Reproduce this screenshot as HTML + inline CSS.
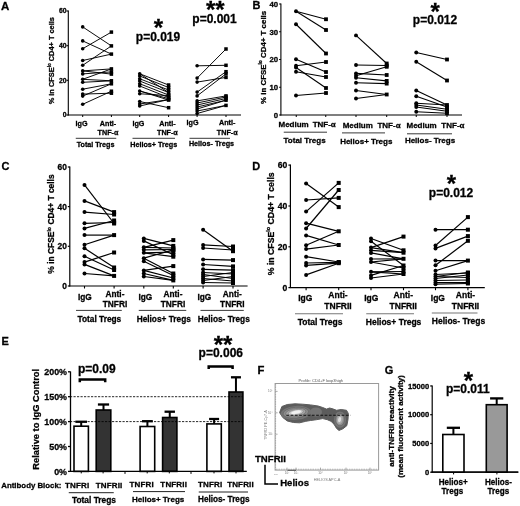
<!DOCTYPE html>
<html lang="en">
<head>
<meta charset="utf-8">
<title>Figure</title>
<style>
html,body{margin:0;padding:0;background:#fff;}
body{width:520px;height:506px;overflow:hidden;}
svg{display:block;font-family:"Liberation Sans", sans-serif;will-change:transform;opacity:0.999;}
text.b{stroke:#000;stroke-width:0.28px;}
</style>
</head>
<body>
<svg width="520" height="506" viewBox="0 0 520 506">
<rect x="0" y="0" width="520" height="506" fill="#fff"/>
<text x="1.0" y="9.8" font-size="11.5" text-anchor="start" font-weight="bold" fill="#000"  class="b">A</text>
<line x1="68.3" y1="10.5" x2="68.3" y2="115.5" stroke="#000" stroke-width="1.1" />
<line x1="66.5" y1="11" x2="68.3" y2="11" stroke="#000" stroke-width="1.1" />
<text x="66.5" y="13.448" font-size="6.8" text-anchor="end" font-weight="bold" fill="#000"  class="b">60</text>
<line x1="66.5" y1="45.7" x2="68.3" y2="45.7" stroke="#000" stroke-width="1.1" />
<text x="66.5" y="48.148" font-size="6.8" text-anchor="end" font-weight="bold" fill="#000"  class="b">40</text>
<line x1="66.5" y1="80.3" x2="68.3" y2="80.3" stroke="#000" stroke-width="1.1" />
<text x="66.5" y="82.74799999999999" font-size="6.8" text-anchor="end" font-weight="bold" fill="#000"  class="b">20</text>
<line x1="66.5" y1="115" x2="68.3" y2="115" stroke="#000" stroke-width="1.1" />
<text x="66.5" y="117.448" font-size="6.8" text-anchor="end" font-weight="bold" fill="#000"  class="b">0</text>
<line x1="67.8" y1="115" x2="241" y2="115" stroke="#000" stroke-width="1.1" />
<text transform="translate(54,60.7) rotate(-90)" font-size="7.4" text-anchor="middle" font-weight="bold" fill="#000" class="b">% in CFSE<tspan font-size="62%" dy="-3.3">lo</tspan><tspan dy="3.3"> CD4+ T cells</tspan></text>
<line x1="82.7" y1="26.9" x2="111.4" y2="45.9" stroke="#000" stroke-width="0.95" />
<line x1="82.7" y1="40.9" x2="111.4" y2="54.1" stroke="#000" stroke-width="0.95" />
<line x1="82.7" y1="48.7" x2="111.4" y2="32.1" stroke="#000" stroke-width="0.95" />
<line x1="82.7" y1="60.5" x2="111.4" y2="54.1" stroke="#000" stroke-width="0.95" />
<line x1="82.7" y1="65.3" x2="111.4" y2="45.9" stroke="#000" stroke-width="0.95" />
<line x1="82.7" y1="70.9" x2="111.4" y2="68.9" stroke="#000" stroke-width="0.95" />
<line x1="82.7" y1="70.9" x2="111.4" y2="74.1" stroke="#000" stroke-width="0.95" />
<line x1="82.7" y1="73.9" x2="111.4" y2="71.9" stroke="#000" stroke-width="0.95" />
<line x1="82.7" y1="79.3" x2="111.4" y2="68.9" stroke="#000" stroke-width="0.95" />
<line x1="82.7" y1="79.3" x2="111.4" y2="80.8" stroke="#000" stroke-width="0.95" />
<line x1="82.7" y1="82.3" x2="111.4" y2="80.8" stroke="#000" stroke-width="0.95" />
<line x1="82.7" y1="89.2" x2="111.4" y2="83.8" stroke="#000" stroke-width="0.95" />
<line x1="82.7" y1="94.1" x2="111.4" y2="93.2" stroke="#000" stroke-width="0.95" />
<line x1="82.7" y1="96.1" x2="111.4" y2="83.8" stroke="#000" stroke-width="0.95" />
<line x1="82.7" y1="104.3" x2="111.4" y2="91.2" stroke="#000" stroke-width="0.95" />
<circle cx="82.7" cy="26.9" r="1.8" fill="#000"/>
<circle cx="82.7" cy="40.9" r="1.8" fill="#000"/>
<circle cx="82.7" cy="48.7" r="1.8" fill="#000"/>
<circle cx="82.7" cy="60.5" r="1.8" fill="#000"/>
<circle cx="82.7" cy="65.3" r="1.8" fill="#000"/>
<circle cx="82.7" cy="70.9" r="1.8" fill="#000"/>
<circle cx="82.7" cy="73.9" r="1.8" fill="#000"/>
<circle cx="82.7" cy="79.3" r="1.8" fill="#000"/>
<circle cx="82.7" cy="82.3" r="1.8" fill="#000"/>
<circle cx="82.7" cy="89.2" r="1.8" fill="#000"/>
<circle cx="82.7" cy="94.1" r="1.8" fill="#000"/>
<circle cx="82.7" cy="96.1" r="1.8" fill="#000"/>
<circle cx="82.7" cy="104.3" r="1.8" fill="#000"/>
<rect x="109.65" y="30.35" width="3.5" height="3.5" fill="#000"/>
<rect x="109.65" y="44.15" width="3.5" height="3.5" fill="#000"/>
<rect x="109.65" y="52.35" width="3.5" height="3.5" fill="#000"/>
<rect x="109.65" y="67.15" width="3.5" height="3.5" fill="#000"/>
<rect x="109.65" y="70.15" width="3.5" height="3.5" fill="#000"/>
<rect x="109.65" y="72.35" width="3.5" height="3.5" fill="#000"/>
<rect x="109.65" y="79.05" width="3.5" height="3.5" fill="#000"/>
<rect x="109.65" y="82.05" width="3.5" height="3.5" fill="#000"/>
<rect x="109.65" y="89.45" width="3.5" height="3.5" fill="#000"/>
<rect x="109.65" y="91.45" width="3.5" height="3.5" fill="#000"/>
<line x1="139.7" y1="73.75" x2="168.6" y2="85" stroke="#000" stroke-width="0.95" />
<line x1="139.7" y1="76" x2="168.6" y2="87.5" stroke="#000" stroke-width="0.95" />
<line x1="139.7" y1="78.75" x2="168.6" y2="90" stroke="#000" stroke-width="0.95" />
<line x1="139.7" y1="81" x2="168.6" y2="92.5" stroke="#000" stroke-width="0.95" />
<line x1="139.7" y1="83.75" x2="168.6" y2="95" stroke="#000" stroke-width="0.95" />
<line x1="139.7" y1="86" x2="168.6" y2="97.5" stroke="#000" stroke-width="0.95" />
<line x1="139.7" y1="73.75" x2="168.6" y2="92.5" stroke="#000" stroke-width="0.95" />
<line x1="139.7" y1="91" x2="168.6" y2="98.6" stroke="#000" stroke-width="0.95" />
<line x1="139.7" y1="93.75" x2="168.6" y2="95.6" stroke="#000" stroke-width="0.95" />
<line x1="139.7" y1="91" x2="168.6" y2="100" stroke="#000" stroke-width="0.95" />
<line x1="139.7" y1="101.5" x2="168.6" y2="107.7" stroke="#000" stroke-width="0.95" />
<line x1="139.7" y1="104" x2="168.6" y2="99.6" stroke="#000" stroke-width="0.95" />
<line x1="139.7" y1="106" x2="168.6" y2="99.6" stroke="#000" stroke-width="0.95" />
<circle cx="139.7" cy="73.75" r="1.8" fill="#000"/>
<circle cx="139.7" cy="76" r="1.8" fill="#000"/>
<circle cx="139.7" cy="78.75" r="1.8" fill="#000"/>
<circle cx="139.7" cy="81" r="1.8" fill="#000"/>
<circle cx="139.7" cy="83.75" r="1.8" fill="#000"/>
<circle cx="139.7" cy="86" r="1.8" fill="#000"/>
<circle cx="139.7" cy="91" r="1.8" fill="#000"/>
<circle cx="139.7" cy="93.75" r="1.8" fill="#000"/>
<circle cx="139.7" cy="101.5" r="1.8" fill="#000"/>
<circle cx="139.7" cy="104" r="1.8" fill="#000"/>
<circle cx="139.7" cy="106" r="1.8" fill="#000"/>
<rect x="166.85" y="83.25" width="3.5" height="3.5" fill="#000"/>
<rect x="166.85" y="85.75" width="3.5" height="3.5" fill="#000"/>
<rect x="166.85" y="88.25" width="3.5" height="3.5" fill="#000"/>
<rect x="166.85" y="90.75" width="3.5" height="3.5" fill="#000"/>
<rect x="166.85" y="93.25" width="3.5" height="3.5" fill="#000"/>
<rect x="166.85" y="93.85" width="3.5" height="3.5" fill="#000"/>
<rect x="166.85" y="95.75" width="3.5" height="3.5" fill="#000"/>
<rect x="166.85" y="96.85" width="3.5" height="3.5" fill="#000"/>
<rect x="166.85" y="97.85" width="3.5" height="3.5" fill="#000"/>
<rect x="166.85" y="98.25" width="3.5" height="3.5" fill="#000"/>
<rect x="166.85" y="105.95" width="3.5" height="3.5" fill="#000"/>
<line x1="197.1" y1="65.8" x2="226" y2="65.3" stroke="#000" stroke-width="0.95" />
<line x1="197.1" y1="78.1" x2="226" y2="49" stroke="#000" stroke-width="0.95" />
<line x1="197.1" y1="82.1" x2="226" y2="77.4" stroke="#000" stroke-width="0.95" />
<line x1="197.1" y1="92.1" x2="226" y2="71.7" stroke="#000" stroke-width="0.95" />
<line x1="197.1" y1="95.9" x2="226" y2="73.9" stroke="#000" stroke-width="0.95" />
<line x1="197.1" y1="100.9" x2="226" y2="95.9" stroke="#000" stroke-width="0.95" />
<line x1="197.1" y1="103" x2="226" y2="97" stroke="#000" stroke-width="0.95" />
<line x1="197.1" y1="105" x2="226" y2="98.5" stroke="#000" stroke-width="0.95" />
<line x1="197.1" y1="107" x2="226" y2="100.2" stroke="#000" stroke-width="0.95" />
<line x1="197.1" y1="109" x2="226" y2="100.2" stroke="#000" stroke-width="0.95" />
<line x1="197.1" y1="111" x2="226" y2="105.4" stroke="#000" stroke-width="0.95" />
<line x1="197.1" y1="113.5" x2="226" y2="105.4" stroke="#000" stroke-width="0.95" />
<circle cx="197.1" cy="65.8" r="1.8" fill="#000"/>
<circle cx="197.1" cy="78.1" r="1.8" fill="#000"/>
<circle cx="197.1" cy="82.1" r="1.8" fill="#000"/>
<circle cx="197.1" cy="92.1" r="1.8" fill="#000"/>
<circle cx="197.1" cy="95.9" r="1.8" fill="#000"/>
<circle cx="197.1" cy="100.9" r="1.8" fill="#000"/>
<circle cx="197.1" cy="103" r="1.8" fill="#000"/>
<circle cx="197.1" cy="105" r="1.8" fill="#000"/>
<circle cx="197.1" cy="107" r="1.8" fill="#000"/>
<circle cx="197.1" cy="109" r="1.8" fill="#000"/>
<circle cx="197.1" cy="111" r="1.8" fill="#000"/>
<circle cx="197.1" cy="113.5" r="1.8" fill="#000"/>
<rect x="224.25" y="47.25" width="3.5" height="3.5" fill="#000"/>
<rect x="224.25" y="63.55" width="3.5" height="3.5" fill="#000"/>
<rect x="224.25" y="69.95" width="3.5" height="3.5" fill="#000"/>
<rect x="224.25" y="72.15" width="3.5" height="3.5" fill="#000"/>
<rect x="224.25" y="75.65" width="3.5" height="3.5" fill="#000"/>
<rect x="224.25" y="94.15" width="3.5" height="3.5" fill="#000"/>
<rect x="224.25" y="95.25" width="3.5" height="3.5" fill="#000"/>
<rect x="224.25" y="96.75" width="3.5" height="3.5" fill="#000"/>
<rect x="224.25" y="98.45" width="3.5" height="3.5" fill="#000"/>
<rect x="224.25" y="103.65" width="3.5" height="3.5" fill="#000"/>
<line x1="82.7" y1="115" x2="82.7" y2="117" stroke="#000" stroke-width="1" />
<line x1="111.4" y1="115" x2="111.4" y2="117" stroke="#000" stroke-width="1" />
<line x1="139.7" y1="115" x2="139.7" y2="117" stroke="#000" stroke-width="1" />
<line x1="168.6" y1="115" x2="168.6" y2="117" stroke="#000" stroke-width="1" />
<line x1="197.1" y1="115" x2="197.1" y2="117" stroke="#000" stroke-width="1" />
<line x1="226" y1="115" x2="226" y2="117" stroke="#000" stroke-width="1" />
<text x="81.6" y="125.5" font-size="7.2" text-anchor="middle" font-weight="bold" fill="#000"  class="b">IgG</text>
<text x="108" y="125.5" font-size="7.2" text-anchor="middle" font-weight="bold" fill="#000"  class="b">Anti-</text>
<text x="108" y="135.1" font-size="7.2" text-anchor="middle" font-weight="bold" fill="#000"  class="b">TNF-α</text>
<line x1="75.75" y1="138.3" x2="116.25" y2="138.3" stroke="#222" stroke-width="0.9" />
<text x="95.6" y="146.8" font-size="7.2" text-anchor="middle" font-weight="bold" fill="#000"  class="b">Total Tregs</text>
<text x="138.4" y="125.5" font-size="7.2" text-anchor="middle" font-weight="bold" fill="#000"  class="b">IgG</text>
<text x="167.4" y="125.5" font-size="7.2" text-anchor="middle" font-weight="bold" fill="#000"  class="b">Anti-</text>
<text x="167.4" y="135.1" font-size="7.2" text-anchor="middle" font-weight="bold" fill="#000"  class="b">TNF-α</text>
<line x1="132.5" y1="138.3" x2="175" y2="138.3" stroke="#222" stroke-width="0.9" />
<text x="153.75" y="146.8" font-size="7.2" text-anchor="middle" font-weight="bold" fill="#000"  class="b">Helios+ Tregs</text>
<text x="192.6" y="125.0" font-size="7.2" text-anchor="middle" font-weight="bold" fill="#000"  class="b">IgG</text>
<text x="227.2" y="125.0" font-size="7.2" text-anchor="middle" font-weight="bold" fill="#000"  class="b">Anti-</text>
<text x="227.2" y="135.4" font-size="7.2" text-anchor="middle" font-weight="bold" fill="#000"  class="b">TNF-α</text>
<line x1="189.5" y1="138.3" x2="230" y2="138.3" stroke="#222" stroke-width="0.9" />
<text x="211.5" y="145.8" font-size="7.2" text-anchor="middle" font-weight="bold" fill="#000"  class="b">Helios- Tregs</text>
<text x="158.3" y="36.1" font-size="24" text-anchor="middle" font-weight="bold" fill="#000"  class="b">*</text>
<text x="158" y="41.2" font-size="12" text-anchor="middle" font-weight="bold" fill="#000"  class="b">p=0.019</text>
<text x="215.3" y="17.7" font-size="24" text-anchor="middle" font-weight="bold" fill="#000"  class="b">**</text>
<text x="214.5" y="22.5" font-size="12" text-anchor="middle" font-weight="bold" fill="#000"  class="b">p=0.001</text>
<text x="252.6" y="9.1" font-size="11" text-anchor="start" font-weight="bold" fill="#000"  class="b">B</text>
<line x1="280.9" y1="3.5" x2="280.9" y2="115.5" stroke="#000" stroke-width="1.1" />
<line x1="279.09999999999997" y1="4" x2="280.9" y2="4" stroke="#000" stroke-width="1.1" />
<text x="278.09999999999997" y="6.808" font-size="7.8" text-anchor="end" font-weight="bold" fill="#000"  class="b">40</text>
<line x1="279.09999999999997" y1="31.75" x2="280.9" y2="31.75" stroke="#000" stroke-width="1.1" />
<text x="278.09999999999997" y="34.558" font-size="7.8" text-anchor="end" font-weight="bold" fill="#000"  class="b">30</text>
<line x1="279.09999999999997" y1="59.5" x2="280.9" y2="59.5" stroke="#000" stroke-width="1.1" />
<text x="278.09999999999997" y="62.308" font-size="7.8" text-anchor="end" font-weight="bold" fill="#000"  class="b">20</text>
<line x1="279.09999999999997" y1="87.25" x2="280.9" y2="87.25" stroke="#000" stroke-width="1.1" />
<text x="278.09999999999997" y="90.05799999999999" font-size="7.8" text-anchor="end" font-weight="bold" fill="#000"  class="b">10</text>
<line x1="279.09999999999997" y1="115" x2="280.9" y2="115" stroke="#000" stroke-width="1.1" />
<text x="278.09999999999997" y="117.80799999999999" font-size="7.8" text-anchor="end" font-weight="bold" fill="#000"  class="b">0</text>
<line x1="280.4" y1="115" x2="462" y2="115" stroke="#000" stroke-width="1.1" />
<text transform="translate(265.7,57.4) rotate(-90)" font-size="7.9" text-anchor="middle" font-weight="bold" fill="#000" class="b">% in CFSE<tspan font-size="62%" dy="-3.3">lo</tspan><tspan dy="3.3"> CD4+ T cells</tspan></text>
<line x1="296" y1="11.25" x2="326" y2="19.25" stroke="#000" stroke-width="1.1" />
<line x1="296" y1="11.25" x2="326" y2="30" stroke="#000" stroke-width="1.1" />
<line x1="296" y1="24.25" x2="326" y2="53.5" stroke="#000" stroke-width="1.1" />
<line x1="296" y1="59.25" x2="326" y2="72" stroke="#000" stroke-width="1.1" />
<line x1="296" y1="65.75" x2="326" y2="62" stroke="#000" stroke-width="1.1" />
<line x1="296" y1="67.5" x2="326" y2="88" stroke="#000" stroke-width="1.1" />
<line x1="296" y1="71.75" x2="326" y2="77" stroke="#000" stroke-width="1.1" />
<line x1="296" y1="95.5" x2="326" y2="93" stroke="#000" stroke-width="1.1" />
<circle cx="296" cy="11.25" r="1.95" fill="#000"/>
<circle cx="296" cy="24.25" r="1.95" fill="#000"/>
<circle cx="296" cy="59.25" r="1.95" fill="#000"/>
<circle cx="296" cy="65.75" r="1.95" fill="#000"/>
<circle cx="296" cy="67.5" r="1.95" fill="#000"/>
<circle cx="296" cy="71.75" r="1.95" fill="#000"/>
<circle cx="296" cy="95.5" r="1.95" fill="#000"/>
<rect x="324.1" y="17.35" width="3.8" height="3.8" fill="#000"/>
<rect x="324.1" y="28.1" width="3.8" height="3.8" fill="#000"/>
<rect x="324.1" y="51.6" width="3.8" height="3.8" fill="#000"/>
<rect x="324.1" y="60.1" width="3.8" height="3.8" fill="#000"/>
<rect x="324.1" y="70.1" width="3.8" height="3.8" fill="#000"/>
<rect x="324.1" y="75.1" width="3.8" height="3.8" fill="#000"/>
<rect x="324.1" y="86.1" width="3.8" height="3.8" fill="#000"/>
<rect x="324.1" y="91.1" width="3.8" height="3.8" fill="#000"/>
<line x1="356" y1="35.4" x2="386.7" y2="63.5" stroke="#000" stroke-width="1.1" />
<line x1="356" y1="65" x2="386.7" y2="65.5" stroke="#000" stroke-width="1.1" />
<line x1="356" y1="73.4" x2="386.7" y2="75" stroke="#000" stroke-width="1.1" />
<line x1="356" y1="75.7" x2="386.7" y2="66.8" stroke="#000" stroke-width="1.1" />
<line x1="356" y1="77.7" x2="386.7" y2="80.9" stroke="#000" stroke-width="1.1" />
<line x1="356" y1="82.8" x2="386.7" y2="83.6" stroke="#000" stroke-width="1.1" />
<line x1="356" y1="90.5" x2="386.7" y2="94.5" stroke="#000" stroke-width="1.1" />
<line x1="356" y1="98.5" x2="386.7" y2="94.5" stroke="#000" stroke-width="1.1" />
<circle cx="356" cy="35.4" r="1.95" fill="#000"/>
<circle cx="356" cy="65" r="1.95" fill="#000"/>
<circle cx="356" cy="73.4" r="1.95" fill="#000"/>
<circle cx="356" cy="75.7" r="1.95" fill="#000"/>
<circle cx="356" cy="77.7" r="1.95" fill="#000"/>
<circle cx="356" cy="82.8" r="1.95" fill="#000"/>
<circle cx="356" cy="90.5" r="1.95" fill="#000"/>
<circle cx="356" cy="98.5" r="1.95" fill="#000"/>
<rect x="384.8" y="61.6" width="3.8" height="3.8" fill="#000"/>
<rect x="384.8" y="63.6" width="3.8" height="3.8" fill="#000"/>
<rect x="384.8" y="64.89999999999999" width="3.8" height="3.8" fill="#000"/>
<rect x="384.8" y="73.1" width="3.8" height="3.8" fill="#000"/>
<rect x="384.8" y="79.0" width="3.8" height="3.8" fill="#000"/>
<rect x="384.8" y="81.69999999999999" width="3.8" height="3.8" fill="#000"/>
<rect x="384.8" y="92.6" width="3.8" height="3.8" fill="#000"/>
<line x1="416.25" y1="52.5" x2="447" y2="59.5" stroke="#000" stroke-width="1.1" />
<line x1="416.25" y1="61.75" x2="447" y2="80.5" stroke="#000" stroke-width="1.1" />
<line x1="416.25" y1="90.5" x2="447" y2="105" stroke="#000" stroke-width="1.1" />
<line x1="416.25" y1="96.25" x2="447" y2="107" stroke="#000" stroke-width="1.1" />
<line x1="416.25" y1="103.25" x2="447" y2="105" stroke="#000" stroke-width="1.1" />
<line x1="416.25" y1="105" x2="447" y2="109.25" stroke="#000" stroke-width="1.1" />
<line x1="416.25" y1="107" x2="447" y2="111.25" stroke="#000" stroke-width="1.1" />
<line x1="416.25" y1="111.75" x2="447" y2="113.25" stroke="#000" stroke-width="1.1" />
<circle cx="416.25" cy="52.5" r="1.95" fill="#000"/>
<circle cx="416.25" cy="61.75" r="1.95" fill="#000"/>
<circle cx="416.25" cy="90.5" r="1.95" fill="#000"/>
<circle cx="416.25" cy="96.25" r="1.95" fill="#000"/>
<circle cx="416.25" cy="103.25" r="1.95" fill="#000"/>
<circle cx="416.25" cy="105" r="1.95" fill="#000"/>
<circle cx="416.25" cy="107" r="1.95" fill="#000"/>
<circle cx="416.25" cy="111.75" r="1.95" fill="#000"/>
<rect x="445.1" y="57.6" width="3.8" height="3.8" fill="#000"/>
<rect x="445.1" y="78.6" width="3.8" height="3.8" fill="#000"/>
<rect x="445.1" y="103.1" width="3.8" height="3.8" fill="#000"/>
<rect x="445.1" y="105.1" width="3.8" height="3.8" fill="#000"/>
<rect x="445.1" y="107.35" width="3.8" height="3.8" fill="#000"/>
<rect x="445.1" y="109.35" width="3.8" height="3.8" fill="#000"/>
<rect x="445.1" y="111.35" width="3.8" height="3.8" fill="#000"/>
<line x1="296.25" y1="115" x2="296.25" y2="117" stroke="#000" stroke-width="1" />
<line x1="325.75" y1="115" x2="325.75" y2="117" stroke="#000" stroke-width="1" />
<line x1="356" y1="115" x2="356" y2="117" stroke="#000" stroke-width="1" />
<line x1="386.7" y1="115" x2="386.7" y2="117" stroke="#000" stroke-width="1" />
<line x1="416.25" y1="115" x2="416.25" y2="117" stroke="#000" stroke-width="1" />
<line x1="447" y1="115" x2="447" y2="117" stroke="#000" stroke-width="1" />
<text x="293.6" y="127.1" font-size="8.0" text-anchor="middle" font-weight="bold" fill="#000"  class="b">Medium</text>
<text x="324.2" y="127.1" font-size="8.0" text-anchor="middle" font-weight="bold" fill="#000"  class="b">TNF-α</text>
<line x1="283.75" y1="132.2" x2="327" y2="132.2" stroke="#222" stroke-width="0.9" />
<text x="304.6" y="143.25" font-size="8.0" text-anchor="middle" font-weight="bold" fill="#000"  class="b">Total Tregs</text>
<text x="357.75" y="128" font-size="8.0" text-anchor="middle" font-weight="bold" fill="#000"  class="b">Medium</text>
<text x="389" y="128" font-size="8.0" text-anchor="middle" font-weight="bold" fill="#000"  class="b">TNF-α</text>
<line x1="342" y1="132.9" x2="385" y2="132.9" stroke="#222" stroke-width="0.9" />
<text x="366.25" y="143.75" font-size="8.0" text-anchor="middle" font-weight="bold" fill="#000"  class="b">Helios+ Tregs</text>
<text x="421.6" y="128" font-size="8.0" text-anchor="middle" font-weight="bold" fill="#000"  class="b">Medium</text>
<text x="452.9" y="128" font-size="8.0" text-anchor="middle" font-weight="bold" fill="#000"  class="b">TNF-α</text>
<line x1="407" y1="133.8" x2="452" y2="133.8" stroke="#222" stroke-width="0.9" />
<text x="430" y="143.25" font-size="8.0" text-anchor="middle" font-weight="bold" fill="#000"  class="b">Helios- Tregs</text>
<text x="435.1" y="20" font-size="24" text-anchor="middle" font-weight="bold" fill="#000"  class="b">*</text>
<text x="435" y="24.3" font-size="12" text-anchor="middle" font-weight="bold" fill="#000"  class="b">p=0.012</text>
<text x="1.4" y="170" font-size="11" text-anchor="start" font-weight="bold" fill="#000"  class="b">C</text>
<line x1="69.8" y1="166.5" x2="69.8" y2="286.5" stroke="#000" stroke-width="1.2" />
<line x1="67.8" y1="167" x2="69.8" y2="167" stroke="#000" stroke-width="1.2" />
<text x="66.8" y="170.024" font-size="8.4" text-anchor="end" font-weight="bold" fill="#000"  class="b">60</text>
<line x1="67.8" y1="206.6" x2="69.8" y2="206.6" stroke="#000" stroke-width="1.2" />
<text x="66.8" y="209.624" font-size="8.4" text-anchor="end" font-weight="bold" fill="#000"  class="b">40</text>
<line x1="67.8" y1="246.3" x2="69.8" y2="246.3" stroke="#000" stroke-width="1.2" />
<text x="66.8" y="249.324" font-size="8.4" text-anchor="end" font-weight="bold" fill="#000"  class="b">20</text>
<line x1="67.8" y1="286" x2="69.8" y2="286" stroke="#000" stroke-width="1.2" />
<text x="66.8" y="289.024" font-size="8.4" text-anchor="end" font-weight="bold" fill="#000"  class="b">0</text>
<line x1="69.2" y1="286" x2="247.6" y2="286" stroke="#000" stroke-width="1.2" />
<text transform="translate(54,224) rotate(-90)" font-size="8.42" text-anchor="middle" font-weight="bold" fill="#000" class="b">% in CFSE<tspan font-size="62%" dy="-3.3">lo</tspan><tspan dy="3.3"> CD4+ T cells</tspan></text>
<line x1="84.5" y1="184.9" x2="114.1" y2="223.5" stroke="#000" stroke-width="1.2" />
<line x1="84.5" y1="200.9" x2="114.1" y2="212.1" stroke="#000" stroke-width="1.2" />
<line x1="84.5" y1="212.1" x2="114.1" y2="214.5" stroke="#000" stroke-width="1.2" />
<line x1="84.5" y1="223.3" x2="114.1" y2="222.5" stroke="#000" stroke-width="1.2" />
<line x1="84.5" y1="228.4" x2="114.1" y2="220.5" stroke="#000" stroke-width="1.2" />
<line x1="84.5" y1="235.1" x2="114.1" y2="235.1" stroke="#000" stroke-width="1.2" />
<line x1="84.5" y1="244.8" x2="114.1" y2="235.1" stroke="#000" stroke-width="1.2" />
<line x1="84.5" y1="248.3" x2="114.1" y2="267.5" stroke="#000" stroke-width="1.2" />
<line x1="84.5" y1="256.2" x2="114.1" y2="270" stroke="#000" stroke-width="1.2" />
<line x1="84.5" y1="262.1" x2="114.1" y2="252.5" stroke="#000" stroke-width="1.2" />
<line x1="84.5" y1="264.4" x2="114.1" y2="275.9" stroke="#000" stroke-width="1.2" />
<line x1="84.5" y1="273.5" x2="114.1" y2="275.9" stroke="#000" stroke-width="1.2" />
<circle cx="84.5" cy="184.9" r="2.0" fill="#000"/>
<circle cx="84.5" cy="200.9" r="2.0" fill="#000"/>
<circle cx="84.5" cy="212.1" r="2.0" fill="#000"/>
<circle cx="84.5" cy="223.3" r="2.0" fill="#000"/>
<circle cx="84.5" cy="228.4" r="2.0" fill="#000"/>
<circle cx="84.5" cy="235.1" r="2.0" fill="#000"/>
<circle cx="84.5" cy="244.8" r="2.0" fill="#000"/>
<circle cx="84.5" cy="248.3" r="2.0" fill="#000"/>
<circle cx="84.5" cy="256.2" r="2.0" fill="#000"/>
<circle cx="84.5" cy="262.1" r="2.0" fill="#000"/>
<circle cx="84.5" cy="264.4" r="2.0" fill="#000"/>
<circle cx="84.5" cy="273.5" r="2.0" fill="#000"/>
<rect x="112.1" y="210.1" width="4.0" height="4.0" fill="#000"/>
<rect x="112.1" y="212.5" width="4.0" height="4.0" fill="#000"/>
<rect x="112.1" y="218.5" width="4.0" height="4.0" fill="#000"/>
<rect x="112.1" y="220.5" width="4.0" height="4.0" fill="#000"/>
<rect x="112.1" y="221.5" width="4.0" height="4.0" fill="#000"/>
<rect x="112.1" y="233.1" width="4.0" height="4.0" fill="#000"/>
<rect x="112.1" y="250.5" width="4.0" height="4.0" fill="#000"/>
<rect x="112.1" y="265.5" width="4.0" height="4.0" fill="#000"/>
<rect x="112.1" y="268.0" width="4.0" height="4.0" fill="#000"/>
<rect x="112.1" y="273.9" width="4.0" height="4.0" fill="#000"/>
<line x1="143.8" y1="238.4" x2="173.3" y2="245.9" stroke="#000" stroke-width="1.2" />
<line x1="143.8" y1="240.9" x2="173.3" y2="254.8" stroke="#000" stroke-width="1.2" />
<line x1="143.8" y1="247.3" x2="173.3" y2="240.1" stroke="#000" stroke-width="1.2" />
<line x1="143.8" y1="247.3" x2="173.3" y2="248" stroke="#000" stroke-width="1.2" />
<line x1="143.8" y1="249.8" x2="173.3" y2="249.5" stroke="#000" stroke-width="1.2" />
<line x1="143.8" y1="252.8" x2="173.3" y2="252" stroke="#000" stroke-width="1.2" />
<line x1="143.8" y1="258.2" x2="173.3" y2="249.8" stroke="#000" stroke-width="1.2" />
<line x1="143.8" y1="258.2" x2="173.3" y2="273.5" stroke="#000" stroke-width="1.2" />
<line x1="143.8" y1="261.2" x2="173.3" y2="275.5" stroke="#000" stroke-width="1.2" />
<line x1="143.8" y1="270.4" x2="173.3" y2="266.1" stroke="#000" stroke-width="1.2" />
<line x1="143.8" y1="270.4" x2="173.3" y2="278" stroke="#000" stroke-width="1.2" />
<line x1="143.8" y1="273.5" x2="173.3" y2="280.4" stroke="#000" stroke-width="1.2" />
<line x1="143.8" y1="276.5" x2="173.3" y2="280.4" stroke="#000" stroke-width="1.2" />
<line x1="143.8" y1="252.8" x2="173.3" y2="256.7" stroke="#000" stroke-width="1.2" />
<circle cx="143.8" cy="238.4" r="2.0" fill="#000"/>
<circle cx="143.8" cy="240.9" r="2.0" fill="#000"/>
<circle cx="143.8" cy="247.3" r="2.0" fill="#000"/>
<circle cx="143.8" cy="249.8" r="2.0" fill="#000"/>
<circle cx="143.8" cy="252.8" r="2.0" fill="#000"/>
<circle cx="143.8" cy="258.2" r="2.0" fill="#000"/>
<circle cx="143.8" cy="261.2" r="2.0" fill="#000"/>
<circle cx="143.8" cy="270.4" r="2.0" fill="#000"/>
<circle cx="143.8" cy="273.5" r="2.0" fill="#000"/>
<circle cx="143.8" cy="276.5" r="2.0" fill="#000"/>
<rect x="171.3" y="238.1" width="4.0" height="4.0" fill="#000"/>
<rect x="171.3" y="243.9" width="4.0" height="4.0" fill="#000"/>
<rect x="171.3" y="246.0" width="4.0" height="4.0" fill="#000"/>
<rect x="171.3" y="247.5" width="4.0" height="4.0" fill="#000"/>
<rect x="171.3" y="247.8" width="4.0" height="4.0" fill="#000"/>
<rect x="171.3" y="250.0" width="4.0" height="4.0" fill="#000"/>
<rect x="171.3" y="252.8" width="4.0" height="4.0" fill="#000"/>
<rect x="171.3" y="254.7" width="4.0" height="4.0" fill="#000"/>
<rect x="171.3" y="264.1" width="4.0" height="4.0" fill="#000"/>
<rect x="171.3" y="271.5" width="4.0" height="4.0" fill="#000"/>
<rect x="171.3" y="273.5" width="4.0" height="4.0" fill="#000"/>
<rect x="171.3" y="276.0" width="4.0" height="4.0" fill="#000"/>
<rect x="171.3" y="278.4" width="4.0" height="4.0" fill="#000"/>
<line x1="203.1" y1="229.7" x2="233" y2="251.2" stroke="#000" stroke-width="1.2" />
<line x1="203.1" y1="244.9" x2="233" y2="246.5" stroke="#000" stroke-width="1.2" />
<line x1="203.1" y1="248" x2="233" y2="250" stroke="#000" stroke-width="1.2" />
<line x1="203.1" y1="259.4" x2="233" y2="260.1" stroke="#000" stroke-width="1.2" />
<line x1="203.1" y1="264.5" x2="233" y2="266.4" stroke="#000" stroke-width="1.2" />
<line x1="203.1" y1="269.3" x2="233" y2="270.2" stroke="#000" stroke-width="1.2" />
<line x1="203.1" y1="272.5" x2="233" y2="274" stroke="#000" stroke-width="1.2" />
<line x1="203.1" y1="274.5" x2="233" y2="278.5" stroke="#000" stroke-width="1.2" />
<line x1="203.1" y1="276.5" x2="233" y2="272.5" stroke="#000" stroke-width="1.2" />
<line x1="203.1" y1="278.5" x2="233" y2="281" stroke="#000" stroke-width="1.2" />
<line x1="203.1" y1="280.5" x2="233" y2="276.5" stroke="#000" stroke-width="1.2" />
<line x1="203.1" y1="282.5" x2="233" y2="283" stroke="#000" stroke-width="1.2" />
<circle cx="203.1" cy="229.7" r="2.0" fill="#000"/>
<circle cx="203.1" cy="244.9" r="2.0" fill="#000"/>
<circle cx="203.1" cy="248" r="2.0" fill="#000"/>
<circle cx="203.1" cy="259.4" r="2.0" fill="#000"/>
<circle cx="203.1" cy="264.5" r="2.0" fill="#000"/>
<circle cx="203.1" cy="269.3" r="2.0" fill="#000"/>
<circle cx="203.1" cy="272.5" r="2.0" fill="#000"/>
<circle cx="203.1" cy="274.5" r="2.0" fill="#000"/>
<circle cx="203.1" cy="276.5" r="2.0" fill="#000"/>
<circle cx="203.1" cy="278.5" r="2.0" fill="#000"/>
<circle cx="203.1" cy="280.5" r="2.0" fill="#000"/>
<circle cx="203.1" cy="282.5" r="2.0" fill="#000"/>
<rect x="231.0" y="244.5" width="4.0" height="4.0" fill="#000"/>
<rect x="231.0" y="248.0" width="4.0" height="4.0" fill="#000"/>
<rect x="231.0" y="249.2" width="4.0" height="4.0" fill="#000"/>
<rect x="231.0" y="258.1" width="4.0" height="4.0" fill="#000"/>
<rect x="231.0" y="264.4" width="4.0" height="4.0" fill="#000"/>
<rect x="231.0" y="268.2" width="4.0" height="4.0" fill="#000"/>
<rect x="231.0" y="270.5" width="4.0" height="4.0" fill="#000"/>
<rect x="231.0" y="272.0" width="4.0" height="4.0" fill="#000"/>
<rect x="231.0" y="274.5" width="4.0" height="4.0" fill="#000"/>
<rect x="231.0" y="276.5" width="4.0" height="4.0" fill="#000"/>
<rect x="231.0" y="279.0" width="4.0" height="4.0" fill="#000"/>
<rect x="231.0" y="281.0" width="4.0" height="4.0" fill="#000"/>
<line x1="84.5" y1="286" x2="84.5" y2="288.5" stroke="#000" stroke-width="1.1" />
<line x1="114.1" y1="286" x2="114.1" y2="288.5" stroke="#000" stroke-width="1.1" />
<line x1="143.8" y1="286" x2="143.8" y2="288.5" stroke="#000" stroke-width="1.1" />
<line x1="173.3" y1="286" x2="173.3" y2="288.5" stroke="#000" stroke-width="1.1" />
<line x1="203.1" y1="286" x2="203.1" y2="288.5" stroke="#000" stroke-width="1.1" />
<line x1="233" y1="286" x2="233" y2="288.5" stroke="#000" stroke-width="1.1" />
<text x="84.9" y="300.4" font-size="8.3" text-anchor="middle" font-weight="bold" fill="#000"  class="b">IgG</text>
<text x="115" y="296.8" font-size="8.3" text-anchor="middle" font-weight="bold" fill="#000"  class="b">Anti-</text>
<text x="115" y="306.6" font-size="8.3" text-anchor="middle" font-weight="bold" fill="#000"  class="b">TNFRI</text>
<line x1="76" y1="310.4" x2="121.8" y2="310.4" stroke="#222" stroke-width="0.9" />
<text x="99.4" y="321.6" font-size="8.3" text-anchor="middle" font-weight="bold" fill="#000"  class="b">Total Tregs</text>
<text x="145.4" y="300.4" font-size="8.3" text-anchor="middle" font-weight="bold" fill="#000"  class="b">IgG</text>
<text x="173" y="296.8" font-size="8.3" text-anchor="middle" font-weight="bold" fill="#000"  class="b">Anti-</text>
<text x="173" y="306.6" font-size="8.3" text-anchor="middle" font-weight="bold" fill="#000"  class="b">TNFRI</text>
<line x1="138.75" y1="310.4" x2="186.25" y2="310.4" stroke="#222" stroke-width="0.9" />
<text x="163.75" y="321.6" font-size="8.3" text-anchor="middle" font-weight="bold" fill="#000"  class="b">Helios+ Tregs</text>
<text x="204.4" y="300.4" font-size="8.3" text-anchor="middle" font-weight="bold" fill="#000"  class="b">IgG</text>
<text x="232.3" y="296.8" font-size="8.3" text-anchor="middle" font-weight="bold" fill="#000"  class="b">Anti-</text>
<text x="232.3" y="306.6" font-size="8.3" text-anchor="middle" font-weight="bold" fill="#000"  class="b">TNFRI</text>
<line x1="200.5" y1="310.4" x2="243.75" y2="310.4" stroke="#222" stroke-width="0.9" />
<text x="223.75" y="321.6" font-size="8.3" text-anchor="middle" font-weight="bold" fill="#000"  class="b">Helios- Tregs</text>
<text x="252.3" y="170" font-size="11" text-anchor="start" font-weight="bold" fill="#000"  class="b">D</text>
<line x1="290.4" y1="164.6" x2="290.4" y2="288.1" stroke="#000" stroke-width="1.2" />
<line x1="288.4" y1="165.1" x2="290.4" y2="165.1" stroke="#000" stroke-width="1.2" />
<text x="287.4" y="168.196" font-size="8.6" text-anchor="end" font-weight="bold" fill="#000"  class="b">60</text>
<line x1="288.4" y1="206.0" x2="290.4" y2="206.0" stroke="#000" stroke-width="1.2" />
<text x="287.4" y="209.096" font-size="8.6" text-anchor="end" font-weight="bold" fill="#000"  class="b">40</text>
<line x1="288.4" y1="246.8" x2="290.4" y2="246.8" stroke="#000" stroke-width="1.2" />
<text x="287.4" y="249.89600000000002" font-size="8.6" text-anchor="end" font-weight="bold" fill="#000"  class="b">20</text>
<line x1="288.4" y1="287.6" x2="290.4" y2="287.6" stroke="#000" stroke-width="1.2" />
<text x="287.4" y="290.696" font-size="8.6" text-anchor="end" font-weight="bold" fill="#000"  class="b">0</text>
<line x1="289.8" y1="287.6" x2="484.8" y2="287.6" stroke="#000" stroke-width="1.2" />
<text transform="translate(273.5,223.8) rotate(-90)" font-size="8.72" text-anchor="middle" font-weight="bold" fill="#000" class="b">% in CFSE<tspan font-size="62%" dy="-3.3">lo</tspan><tspan dy="3.3"> CD4+ T cells</tspan></text>
<line x1="306.1" y1="183.4" x2="338.7" y2="207.1" stroke="#000" stroke-width="1.2" />
<line x1="306.1" y1="200" x2="338.7" y2="197.9" stroke="#000" stroke-width="1.2" />
<line x1="306.1" y1="211.6" x2="338.7" y2="182.9" stroke="#000" stroke-width="1.2" />
<line x1="306.1" y1="223.2" x2="338.7" y2="231.3" stroke="#000" stroke-width="1.2" />
<line x1="306.1" y1="228.5" x2="338.7" y2="190" stroke="#000" stroke-width="1.2" />
<line x1="306.1" y1="235.4" x2="338.7" y2="245" stroke="#000" stroke-width="1.2" />
<line x1="306.1" y1="245.2" x2="338.7" y2="231.3" stroke="#000" stroke-width="1.2" />
<line x1="306.1" y1="249.1" x2="338.7" y2="245" stroke="#000" stroke-width="1.2" />
<line x1="306.1" y1="256.7" x2="338.7" y2="262" stroke="#000" stroke-width="1.2" />
<line x1="306.1" y1="263" x2="338.7" y2="262.4" stroke="#000" stroke-width="1.2" />
<line x1="306.1" y1="265.4" x2="338.7" y2="263.2" stroke="#000" stroke-width="1.2" />
<line x1="306.1" y1="274.9" x2="338.7" y2="263.2" stroke="#000" stroke-width="1.2" />
<circle cx="306.1" cy="183.4" r="2.0" fill="#000"/>
<circle cx="306.1" cy="200" r="2.0" fill="#000"/>
<circle cx="306.1" cy="211.6" r="2.0" fill="#000"/>
<circle cx="306.1" cy="223.2" r="2.0" fill="#000"/>
<circle cx="306.1" cy="228.5" r="2.0" fill="#000"/>
<circle cx="306.1" cy="235.4" r="2.0" fill="#000"/>
<circle cx="306.1" cy="245.2" r="2.0" fill="#000"/>
<circle cx="306.1" cy="249.1" r="2.0" fill="#000"/>
<circle cx="306.1" cy="256.7" r="2.0" fill="#000"/>
<circle cx="306.1" cy="263" r="2.0" fill="#000"/>
<circle cx="306.1" cy="265.4" r="2.0" fill="#000"/>
<circle cx="306.1" cy="274.9" r="2.0" fill="#000"/>
<rect x="336.7" y="180.9" width="4.0" height="4.0" fill="#000"/>
<rect x="336.7" y="188.0" width="4.0" height="4.0" fill="#000"/>
<rect x="336.7" y="195.9" width="4.0" height="4.0" fill="#000"/>
<rect x="336.7" y="205.1" width="4.0" height="4.0" fill="#000"/>
<rect x="336.7" y="229.3" width="4.0" height="4.0" fill="#000"/>
<rect x="336.7" y="243.0" width="4.0" height="4.0" fill="#000"/>
<rect x="336.7" y="260.0" width="4.0" height="4.0" fill="#000"/>
<rect x="336.7" y="260.4" width="4.0" height="4.0" fill="#000"/>
<rect x="336.7" y="261.2" width="4.0" height="4.0" fill="#000"/>
<line x1="371" y1="238.5" x2="403.5" y2="250.3" stroke="#000" stroke-width="1.2" />
<line x1="371" y1="241.2" x2="403.5" y2="265.5" stroke="#000" stroke-width="1.2" />
<line x1="371" y1="247.6" x2="403.5" y2="236.6" stroke="#000" stroke-width="1.2" />
<line x1="371" y1="247.6" x2="403.5" y2="252.7" stroke="#000" stroke-width="1.2" />
<line x1="371" y1="250.3" x2="403.5" y2="252.7" stroke="#000" stroke-width="1.2" />
<line x1="371" y1="252.9" x2="403.5" y2="258.8" stroke="#000" stroke-width="1.2" />
<line x1="371" y1="259" x2="403.5" y2="258.8" stroke="#000" stroke-width="1.2" />
<line x1="371" y1="262" x2="403.5" y2="268" stroke="#000" stroke-width="1.2" />
<line x1="371" y1="262" x2="403.5" y2="258.8" stroke="#000" stroke-width="1.2" />
<line x1="371" y1="271.8" x2="403.5" y2="271.5" stroke="#000" stroke-width="1.2" />
<line x1="371" y1="275.4" x2="403.5" y2="265.5" stroke="#000" stroke-width="1.2" />
<line x1="371" y1="278" x2="403.5" y2="274" stroke="#000" stroke-width="1.2" />
<line x1="371" y1="271.8" x2="403.5" y2="274" stroke="#000" stroke-width="1.2" />
<circle cx="371" cy="238.5" r="2.0" fill="#000"/>
<circle cx="371" cy="241.2" r="2.0" fill="#000"/>
<circle cx="371" cy="247.6" r="2.0" fill="#000"/>
<circle cx="371" cy="250.3" r="2.0" fill="#000"/>
<circle cx="371" cy="252.9" r="2.0" fill="#000"/>
<circle cx="371" cy="259" r="2.0" fill="#000"/>
<circle cx="371" cy="262" r="2.0" fill="#000"/>
<circle cx="371" cy="271.8" r="2.0" fill="#000"/>
<circle cx="371" cy="275.4" r="2.0" fill="#000"/>
<circle cx="371" cy="278" r="2.0" fill="#000"/>
<rect x="401.5" y="234.6" width="4.0" height="4.0" fill="#000"/>
<rect x="401.5" y="248.3" width="4.0" height="4.0" fill="#000"/>
<rect x="401.5" y="250.7" width="4.0" height="4.0" fill="#000"/>
<rect x="401.5" y="256.8" width="4.0" height="4.0" fill="#000"/>
<rect x="401.5" y="263.5" width="4.0" height="4.0" fill="#000"/>
<rect x="401.5" y="266.0" width="4.0" height="4.0" fill="#000"/>
<rect x="401.5" y="269.5" width="4.0" height="4.0" fill="#000"/>
<rect x="401.5" y="272.0" width="4.0" height="4.0" fill="#000"/>
<line x1="435.5" y1="229.7" x2="467.9" y2="229.7" stroke="#000" stroke-width="1.2" />
<line x1="435.5" y1="245.5" x2="467.9" y2="217.1" stroke="#000" stroke-width="1.2" />
<line x1="435.5" y1="248.4" x2="467.9" y2="236.1" stroke="#000" stroke-width="1.2" />
<line x1="435.5" y1="265.3" x2="467.9" y2="240.8" stroke="#000" stroke-width="1.2" />
<line x1="435.5" y1="260.6" x2="467.9" y2="260.6" stroke="#000" stroke-width="1.2" />
<line x1="435.5" y1="270.8" x2="467.9" y2="260.6" stroke="#000" stroke-width="1.2" />
<line x1="435.5" y1="274.5" x2="467.9" y2="273" stroke="#000" stroke-width="1.2" />
<line x1="435.5" y1="276.5" x2="467.9" y2="277.5" stroke="#000" stroke-width="1.2" />
<line x1="435.5" y1="278.5" x2="467.9" y2="275" stroke="#000" stroke-width="1.2" />
<line x1="435.5" y1="280.5" x2="467.9" y2="280" stroke="#000" stroke-width="1.2" />
<line x1="435.5" y1="282.5" x2="467.9" y2="282.5" stroke="#000" stroke-width="1.2" />
<line x1="435.5" y1="284.2" x2="467.9" y2="283.5" stroke="#000" stroke-width="1.2" />
<line x1="435.5" y1="276.5" x2="467.9" y2="272.5" stroke="#000" stroke-width="1.2" />
<circle cx="435.5" cy="229.7" r="2.0" fill="#000"/>
<circle cx="435.5" cy="245.5" r="2.0" fill="#000"/>
<circle cx="435.5" cy="248.4" r="2.0" fill="#000"/>
<circle cx="435.5" cy="260.6" r="2.0" fill="#000"/>
<circle cx="435.5" cy="265.3" r="2.0" fill="#000"/>
<circle cx="435.5" cy="270.8" r="2.0" fill="#000"/>
<circle cx="435.5" cy="274.5" r="2.0" fill="#000"/>
<circle cx="435.5" cy="276.5" r="2.0" fill="#000"/>
<circle cx="435.5" cy="278.5" r="2.0" fill="#000"/>
<circle cx="435.5" cy="280.5" r="2.0" fill="#000"/>
<circle cx="435.5" cy="282.5" r="2.0" fill="#000"/>
<circle cx="435.5" cy="284.2" r="2.0" fill="#000"/>
<rect x="465.9" y="215.1" width="4.0" height="4.0" fill="#000"/>
<rect x="465.9" y="227.7" width="4.0" height="4.0" fill="#000"/>
<rect x="465.9" y="234.1" width="4.0" height="4.0" fill="#000"/>
<rect x="465.9" y="238.8" width="4.0" height="4.0" fill="#000"/>
<rect x="465.9" y="258.6" width="4.0" height="4.0" fill="#000"/>
<rect x="465.9" y="270.5" width="4.0" height="4.0" fill="#000"/>
<rect x="465.9" y="271.0" width="4.0" height="4.0" fill="#000"/>
<rect x="465.9" y="273.0" width="4.0" height="4.0" fill="#000"/>
<rect x="465.9" y="275.5" width="4.0" height="4.0" fill="#000"/>
<rect x="465.9" y="278.0" width="4.0" height="4.0" fill="#000"/>
<rect x="465.9" y="280.5" width="4.0" height="4.0" fill="#000"/>
<rect x="465.9" y="281.5" width="4.0" height="4.0" fill="#000"/>
<line x1="306.1" y1="287.6" x2="306.1" y2="290.2" stroke="#000" stroke-width="1.1" />
<line x1="338.7" y1="287.6" x2="338.7" y2="290.2" stroke="#000" stroke-width="1.1" />
<line x1="371" y1="287.6" x2="371" y2="290.2" stroke="#000" stroke-width="1.1" />
<line x1="403.5" y1="287.6" x2="403.5" y2="290.2" stroke="#000" stroke-width="1.1" />
<line x1="435.5" y1="287.6" x2="435.5" y2="290.2" stroke="#000" stroke-width="1.1" />
<line x1="467.9" y1="287.6" x2="467.9" y2="290.2" stroke="#000" stroke-width="1.1" />
<text x="305.3" y="300.5" font-size="8.5" text-anchor="middle" font-weight="bold" fill="#000"  class="b">IgG</text>
<text x="338" y="298.4" font-size="8.5" text-anchor="middle" font-weight="bold" fill="#000"  class="b">Anti-</text>
<text x="338" y="308.6" font-size="8.5" text-anchor="middle" font-weight="bold" fill="#000"  class="b">TNFRII</text>
<line x1="295" y1="313.75" x2="343" y2="313.75" stroke="#777" stroke-width="1.2" />
<text x="320" y="325" font-size="8.5" text-anchor="middle" font-weight="bold" fill="#000"  class="b">Total Tregs</text>
<text x="371.25" y="300.5" font-size="8.5" text-anchor="middle" font-weight="bold" fill="#000"  class="b">IgG</text>
<text x="403.3" y="298.4" font-size="8.5" text-anchor="middle" font-weight="bold" fill="#000"  class="b">Anti-</text>
<text x="403.3" y="308.6" font-size="8.5" text-anchor="middle" font-weight="bold" fill="#000"  class="b">TNFRII</text>
<line x1="366.25" y1="313.75" x2="414" y2="313.75" stroke="#777" stroke-width="1.2" />
<text x="393.6" y="325" font-size="8.5" text-anchor="middle" font-weight="bold" fill="#000"  class="b">Helios+ Tregs</text>
<text x="437.9" y="300.5" font-size="8.5" text-anchor="middle" font-weight="bold" fill="#000"  class="b">IgG</text>
<text x="465.5" y="298.4" font-size="8.5" text-anchor="middle" font-weight="bold" fill="#000"  class="b">Anti-</text>
<text x="465.5" y="308.6" font-size="8.5" text-anchor="middle" font-weight="bold" fill="#000"  class="b">TNFRII</text>
<line x1="431.8" y1="313" x2="477.5" y2="313" stroke="#777" stroke-width="1.2" />
<text x="458.5" y="323.75" font-size="8.5" text-anchor="middle" font-weight="bold" fill="#000"  class="b">Helios- Tregs</text>
<text x="451.4" y="191.9" font-size="24" text-anchor="middle" font-weight="bold" fill="#000"  class="b">*</text>
<text x="451" y="197" font-size="12" text-anchor="middle" font-weight="bold" fill="#000"  class="b">p=0.012</text>
<text x="1.6" y="345.2" font-size="11" text-anchor="start" font-weight="bold" fill="#000"  class="b">E</text>
<line x1="70.5" y1="371.5" x2="70.5" y2="471.9" stroke="#000" stroke-width="1.3" />
<line x1="68.0" y1="371.79999999999995" x2="70.5" y2="371.79999999999995" stroke="#000" stroke-width="1.3" />
<text x="67.0" y="375.00399999999996" font-size="8.9" text-anchor="end" font-weight="bold" fill="#000"  class="b">200%</text>
<line x1="68.0" y1="396.7" x2="70.5" y2="396.7" stroke="#000" stroke-width="1.3" />
<text x="67.0" y="399.904" font-size="8.9" text-anchor="end" font-weight="bold" fill="#000"  class="b">150%</text>
<line x1="68.0" y1="421.59999999999997" x2="70.5" y2="421.59999999999997" stroke="#000" stroke-width="1.3" />
<text x="67.0" y="424.804" font-size="8.9" text-anchor="end" font-weight="bold" fill="#000"  class="b">100%</text>
<line x1="68.0" y1="446.5" x2="70.5" y2="446.5" stroke="#000" stroke-width="1.3" />
<text x="67.0" y="449.704" font-size="8.9" text-anchor="end" font-weight="bold" fill="#000"  class="b">50%</text>
<line x1="68.0" y1="471.4" x2="70.5" y2="471.4" stroke="#000" stroke-width="1.3" />
<text x="67.0" y="474.604" font-size="8.9" text-anchor="end" font-weight="bold" fill="#000"  class="b">0%</text>
<text transform="translate(39.2,419.3) rotate(-90)" font-size="9.3" text-anchor="middle" font-weight="bold" fill="#000" class="b">Relative to IgG Control</text>
<line x1="81.2" y1="421.75" x2="81.2" y2="426.2" stroke="#000" stroke-width="2.0" />
<line x1="75.4" y1="421.75" x2="87.0" y2="421.75" stroke="#000" stroke-width="2.3" />
<rect x="74.0" y="426.2" width="14.4" height="45.19999999999999" fill="#fff" stroke="#000" stroke-width="1.6"/>
<line x1="103.5" y1="404.5" x2="103.5" y2="410" stroke="#000" stroke-width="2.0" />
<line x1="97.9" y1="404.5" x2="109.1" y2="404.5" stroke="#000" stroke-width="2.3" />
<rect x="96.2" y="410" width="14.599999999999989" height="61.39999999999998" fill="#333" stroke="#000" stroke-width="1.6"/>
<line x1="147.4" y1="421.2" x2="147.4" y2="426.5" stroke="#000" stroke-width="2.0" />
<line x1="142.0" y1="421.2" x2="152.8" y2="421.2" stroke="#000" stroke-width="2.3" />
<rect x="140.10000000000002" y="426.5" width="14.599999999999989" height="44.89999999999998" fill="#fff" stroke="#000" stroke-width="1.6"/>
<line x1="169.75" y1="411.7" x2="169.75" y2="417.5" stroke="#000" stroke-width="2.0" />
<line x1="164.55" y1="411.7" x2="174.95" y2="411.7" stroke="#000" stroke-width="2.3" />
<rect x="162.60000000000002" y="417.5" width="14.299999999999978" height="53.89999999999998" fill="#333" stroke="#000" stroke-width="1.6"/>
<line x1="214.1" y1="419" x2="214.1" y2="423.9" stroke="#000" stroke-width="2.0" />
<line x1="209.1" y1="419" x2="219.1" y2="419" stroke="#000" stroke-width="2.3" />
<rect x="206.9" y="423.9" width="14.4" height="47.5" fill="#fff" stroke="#000" stroke-width="1.6"/>
<line x1="235.95" y1="377.3" x2="235.95" y2="392" stroke="#000" stroke-width="2.0" />
<line x1="230.95" y1="377.3" x2="240.95" y2="377.3" stroke="#000" stroke-width="2.3" />
<rect x="229.0" y="392" width="13.9" height="79.39999999999998" fill="#333" stroke="#000" stroke-width="1.6"/>
<line x1="70" y1="396.7" x2="242.8" y2="396.7" stroke="#000" stroke-width="0.85" stroke-dasharray="2.2 1.3"/>
<line x1="70" y1="421.59999999999997" x2="242.8" y2="421.59999999999997" stroke="#000" stroke-width="0.85" stroke-dasharray="2.2 1.3"/>
<line x1="69.9" y1="471.4" x2="246.8" y2="471.4" stroke="#000" stroke-width="1.3" />
<line x1="81.25" y1="471.4" x2="81.25" y2="473.4" stroke="#000" stroke-width="1" />
<line x1="103.1" y1="471.4" x2="103.1" y2="473.4" stroke="#000" stroke-width="1" />
<line x1="147.2" y1="471.4" x2="147.2" y2="473.4" stroke="#000" stroke-width="1" />
<line x1="169.3" y1="471.4" x2="169.3" y2="473.4" stroke="#000" stroke-width="1" />
<line x1="214" y1="471.4" x2="214" y2="473.4" stroke="#000" stroke-width="1" />
<line x1="236" y1="471.4" x2="236" y2="473.4" stroke="#000" stroke-width="1" />
<line x1="125" y1="471.4" x2="125" y2="473.9" stroke="#000" stroke-width="1" />
<line x1="191" y1="471.4" x2="191" y2="473.9" stroke="#000" stroke-width="1" />
<text x="96.75" y="372.5" font-size="12" text-anchor="middle" font-weight="bold" fill="#000"  class="b">p=0.09</text>
<path d="M79.8 382.2 V379.6 H105.2 V382.2" fill="none" stroke="#000" stroke-width="2.5" stroke-linejoin="miter"/>
<text x="223.1" y="353.4" font-size="24" text-anchor="middle" font-weight="bold" fill="#000"  class="b">**</text>
<text x="220.8" y="356.6" font-size="12" text-anchor="middle" font-weight="bold" fill="#000"  class="b">p=0.006</text>
<path d="M208.7 369 V366.4 H232.6 V369" fill="none" stroke="#000" stroke-width="2.5"/>
<text x="1.3" y="487.5" font-size="7.85" text-anchor="start" font-weight="bold" fill="#000"  class="b">Antibody Block:</text>
<text x="77.2" y="487.6" font-size="8.0" text-anchor="middle" font-weight="bold" fill="#000" letter-spacing="0.15" class="b">TNFRI</text>
<text x="109.1" y="487.6" font-size="8.0" text-anchor="middle" font-weight="bold" fill="#000" letter-spacing="0.15" class="b">TNFRII</text>
<line x1="68.75" y1="492.7" x2="113.75" y2="492.7" stroke="#222" stroke-width="1" />
<text x="94" y="502.8" font-size="8.4" text-anchor="middle" font-weight="bold" fill="#000"  class="b">Total Tregs</text>
<text x="141.7" y="486.8" font-size="8.0" text-anchor="middle" font-weight="bold" fill="#000" letter-spacing="0.15" class="b">TNFRI</text>
<text x="173.7" y="486.8" font-size="8.0" text-anchor="middle" font-weight="bold" fill="#000" letter-spacing="0.15" class="b">TNFRII</text>
<line x1="133" y1="491.6" x2="185" y2="491.6" stroke="#222" stroke-width="1" />
<text x="158.1" y="502" font-size="8.0" text-anchor="middle" font-weight="bold" fill="#000"  class="b">Helios+ Tregs</text>
<text x="210.2" y="487" font-size="8.0" text-anchor="middle" font-weight="bold" fill="#000" letter-spacing="0.15" class="b">TNFRI</text>
<text x="240.5" y="487" font-size="8.0" text-anchor="middle" font-weight="bold" fill="#000" letter-spacing="0.15" class="b">TNFRII</text>
<line x1="198.75" y1="492" x2="248" y2="492" stroke="#222" stroke-width="1" />
<text x="223.75" y="502" font-size="8.2" text-anchor="middle" font-weight="bold" fill="#000"  class="b">Helios- Tregs</text>
<text x="257.6" y="373.6" font-size="11.3" text-anchor="start" font-weight="bold" fill="#000"  class="b">F</text>
<rect x="275.1" y="383.5" width="103.5" height="86.6" fill="#fff" stroke="#9a9a9a" stroke-width="1"/>
<line x1="275.6" y1="384" x2="275.6" y2="470" stroke="#8c8c8c" stroke-width="0.9" stroke-dasharray="0.6 1.1"/>
<line x1="276" y1="469.2" x2="378" y2="469.2" stroke="#8c8c8c" stroke-width="0.9" stroke-dasharray="0.6 1.1"/>
<text x="320.8" y="382.4" font-size="4.0" text-anchor="middle" font-weight="normal" fill="#555" >Profile: CD4+F loxp3high</text>
<text transform="translate(267.2,425) rotate(-90)" font-size="3.7" text-anchor="middle" font-weight="normal" fill="#777">TNFR2 PE-Cy7-A</text>
<text x="327" y="480.6" font-size="3.8" text-anchor="middle" font-weight="normal" fill="#777" >HELIOS APC-A</text>
<polygon points="279.6,412.6 281.9,406.5 287.3,404.5 295,403.8 302.7,404.2 310.4,404.9 318.1,406 322.7,407.5 326.5,409.1 329.6,408 333.5,409.1 336.5,410.3 341.2,409.5 346.5,410.3 348.3,413.4 348,419.5 346.8,425.7 342.9,428.8 338.8,430.5 336.3,428 334,424.2 331,421.3 327.3,419.7 322.7,418.6 316.5,419.7 310.4,420.5 305.8,421.3 299.6,422.8 293.5,422.5 287.3,421 282.7,417.4" fill="#5c5c5c" stroke="#5c5c5c" stroke-width="1" stroke-linejoin="round"/>
<ellipse cx="296" cy="412.8" rx="15.2" ry="7" fill="#747474" transform="rotate(-4 297 412.8)"/>
<ellipse cx="316" cy="412" rx="6" ry="4.6" fill="#747474"/>
<ellipse cx="295.8" cy="412.6" rx="12.8" ry="5.4" fill="#8b8b8b" stroke="#555" stroke-width="0.45" transform="rotate(-6 297 412.6)"/>
<ellipse cx="295.7" cy="412.4" rx="10.2" ry="4" fill="#a6a6a6" stroke="#5a5a5a" stroke-width="0.45" transform="rotate(-8 297 412.4)"/>
<ellipse cx="295.8" cy="412.2" rx="7.6" ry="2.8" fill="#c9c9c9" stroke="#666" stroke-width="0.4" transform="rotate(-10 297.2 412.2)"/>
<ellipse cx="296" cy="412" rx="5" ry="1.6" fill="#f2f2f2" transform="rotate(-12 297.4 412)"/>
<ellipse cx="340" cy="419.6" rx="6" ry="8.2" fill="#747474"/>
<ellipse cx="340" cy="419.6" rx="4.4" ry="6.2" fill="#8d8d8d" stroke="#555" stroke-width="0.45"/>
<ellipse cx="339.8" cy="419.6" rx="2.9" ry="4.3" fill="#ababab" transform="rotate(12 339.8 419.6)"/>
<ellipse cx="339.6" cy="419.6" rx="1.5" ry="2.6" fill="#dedede" transform="rotate(15 339.6 419.6)"/>
<line x1="286.4" y1="415.2" x2="350.4" y2="415.2" stroke="#111" stroke-width="1.05" stroke-dasharray="2.7 1.55"/>
<line x1="275.6" y1="391.4" x2="277.6" y2="391.4" stroke="#777" stroke-width="0.6" />
<text x="272.6" y="392.4" font-size="3" text-anchor="end" font-weight="normal" fill="#777" >10⁵</text>
<line x1="275.6" y1="412.8" x2="277.6" y2="412.8" stroke="#777" stroke-width="0.6" />
<text x="272.6" y="413.8" font-size="3" text-anchor="end" font-weight="normal" fill="#777" >10⁴</text>
<line x1="275.6" y1="434.2" x2="277.6" y2="434.2" stroke="#777" stroke-width="0.6" />
<text x="272.6" y="435.2" font-size="3" text-anchor="end" font-weight="normal" fill="#777" >10³</text>
<line x1="287" y1="467.6" x2="287" y2="469.6" stroke="#777" stroke-width="0.6" />
<text x="287" y="474.2" font-size="3" text-anchor="middle" font-weight="normal" fill="#777" >10²</text>
<line x1="296" y1="467.6" x2="296" y2="469.6" stroke="#777" stroke-width="0.6" />
<text x="296" y="474.2" font-size="3" text-anchor="middle" font-weight="normal" fill="#777" >10³</text>
<line x1="320.5" y1="467.6" x2="320.5" y2="469.6" stroke="#777" stroke-width="0.6" />
<text x="320.5" y="474.2" font-size="3" text-anchor="middle" font-weight="normal" fill="#777" >10⁴</text>
<line x1="346" y1="467.6" x2="346" y2="469.6" stroke="#777" stroke-width="0.6" />
<text x="346" y="474.2" font-size="3" text-anchor="middle" font-weight="normal" fill="#777" >10⁵</text>
<line x1="370" y1="467.6" x2="370" y2="469.6" stroke="#777" stroke-width="0.6" />
<text x="370" y="474.2" font-size="3" text-anchor="middle" font-weight="normal" fill="#777" >10⁶</text>
<text x="275.5" y="474.6" font-size="2.4" text-anchor="middle" font-weight="normal" fill="#888" >-100</text>
<line x1="287.5" y1="470.3" x2="296" y2="470.3" stroke="#444" stroke-width="0.9" />
<text x="255" y="462.2" font-size="9.6" text-anchor="start" font-weight="bold" fill="#000"  class="b">TNFRII</text>
<path d="M265 464.8 V483.9 H278" fill="none" stroke="#000" stroke-width="1.5"/>
<text x="280.2" y="486.3" font-size="9.6" text-anchor="start" font-weight="bold" fill="#000"  class="b">Helios</text>
<text x="384.8" y="374" font-size="11" text-anchor="start" font-weight="bold" fill="#000"  class="b">G</text>
<line x1="432.2" y1="385.45" x2="432.2" y2="472.7" stroke="#000" stroke-width="1.2" />
<line x1="430.2" y1="385.95" x2="432.2" y2="385.95" stroke="#000" stroke-width="1.2" />
<text x="429.2" y="388.686" font-size="7.6" text-anchor="end" font-weight="bold" fill="#000"  class="b">15000</text>
<line x1="430.2" y1="414.7" x2="432.2" y2="414.7" stroke="#000" stroke-width="1.2" />
<text x="429.2" y="417.436" font-size="7.6" text-anchor="end" font-weight="bold" fill="#000"  class="b">10000</text>
<line x1="430.2" y1="443.45" x2="432.2" y2="443.45" stroke="#000" stroke-width="1.2" />
<text x="429.2" y="446.186" font-size="7.6" text-anchor="end" font-weight="bold" fill="#000"  class="b">5000</text>
<line x1="430.2" y1="472.2" x2="432.2" y2="472.2" stroke="#000" stroke-width="1.2" />
<text x="429.2" y="474.936" font-size="7.6" text-anchor="end" font-weight="bold" fill="#000"  class="b">0</text>
<line x1="431.6" y1="472.2" x2="518.3" y2="472.2" stroke="#000" stroke-width="1.2" />
<text transform="translate(393.7,426.5) rotate(-90)" font-size="8.05" text-anchor="middle" font-weight="bold" fill="#000" class="b">anti-TNFRII reactivity</text>
<text transform="translate(402.5,426.5) rotate(-90)" font-size="8.1" text-anchor="middle" font-weight="bold" fill="#000" class="b">(mean fluorescent activity)</text>
<line x1="453.4" y1="427.8" x2="453.4" y2="434.5" stroke="#000" stroke-width="2.0" />
<line x1="446.79999999999995" y1="427.8" x2="460.0" y2="427.8" stroke="#000" stroke-width="2.3" />
<rect x="442.8" y="434.5" width="21.20000000000001" height="37.69999999999999" fill="#fff" stroke="#000" stroke-width="1.6"/>
<line x1="496.7" y1="398.4" x2="496.7" y2="404.7" stroke="#000" stroke-width="2.0" />
<line x1="490.09999999999997" y1="398.4" x2="503.3" y2="398.4" stroke="#000" stroke-width="2.3" />
<rect x="486.3" y="404.7" width="20.799999999999976" height="67.5" fill="#999" stroke="#000" stroke-width="1.6"/>
<line x1="431.6" y1="472.2" x2="518.3" y2="472.2" stroke="#000" stroke-width="1.2" />
<line x1="453.6" y1="472.2" x2="453.6" y2="474.4" stroke="#000" stroke-width="1" />
<line x1="496.9" y1="472.2" x2="496.9" y2="474.4" stroke="#000" stroke-width="1" />
<text x="468.4" y="388.8" font-size="24" text-anchor="middle" font-weight="bold" fill="#000"  class="b">*</text>
<text x="467.8" y="393.2" font-size="12" text-anchor="middle" font-weight="bold" fill="#000"  class="b">p=0.011</text>
<text transform="translate(453.2,484.7) scale(0.9,1)" font-size="9" text-anchor="middle" font-weight="bold" fill="#000"  class="b">Helios+</text>
<text transform="translate(452.4,493.8) scale(0.9,1)" font-size="9" text-anchor="middle" font-weight="bold" fill="#000"  class="b">Tregs</text>
<text transform="translate(498.5,484.7) scale(0.9,1)" font-size="9" text-anchor="middle" font-weight="bold" fill="#000"  class="b">Helios-</text>
<text transform="translate(498.4,493.8) scale(0.9,1)" font-size="9" text-anchor="middle" font-weight="bold" fill="#000"  class="b">Tregs</text>
</svg>
</body>
</html>
